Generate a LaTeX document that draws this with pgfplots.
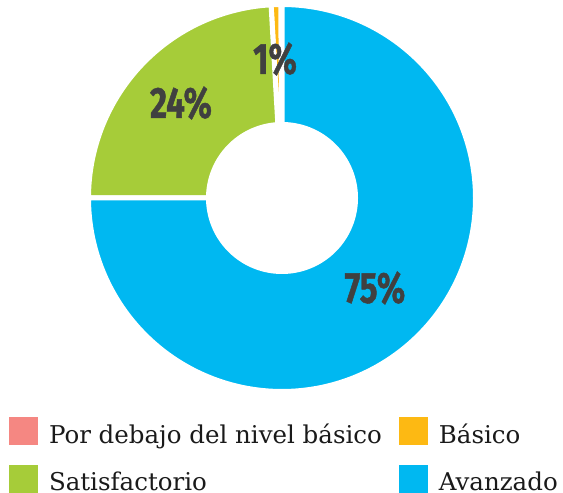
\documentclass[border=0pt]{standalone}
\usepackage{pgfplots}
\pgfplotsset{compat=1.18}
\usepackage{fontspec}
\usepackage{graphicx}
\setmainfont{DejaVu Serif}
\newfontfamily\labfam[FakeBold=1.2]{Fira Sans}
\definecolor{cPor}{HTML}{F58782}
\definecolor{cBas}{HTML}{FDB913}
\definecolor{cSat}{HTML}{A6CC39}
\definecolor{cAva}{HTML}{00B8F1}
\definecolor{cLab}{HTML}{404040}
\definecolor{cLeg}{HTML}{1A1A1A}
% data (percent)
\def\vPor{0.1}
\def\vBas{0.8}
\def\vSat{24.1}
\def\vAva{75.0}
\def\cx{282}
\def\cy{295}
\def\Rout{193.5}
\def\Rin{76}
\newcommand{\lab}[1]{{\labfam\bfseries\fontsize{43.5bp}{48bp}\selectfont\scalebox{0.76}[1]{#1}}}
\begin{document}%
\begin{tikzpicture}
\pgfmathsetmacro{\aA}{90}
\pgfmathsetmacro{\aB}{\aA+3.6*\vPor}
\pgfmathsetmacro{\aC}{\aB+3.6*\vBas}
\pgfmathsetmacro{\aD}{\aC+3.6*\vSat}
\pgfmathsetmacro{\aE}{\aD+3.6*\vAva}
\begin{axis}[
  scale only axis, width=563bp, height=493bp,
  xmin=0, xmax=563, ymin=0, ymax=493,
  hide axis, clip=false,
  legend columns=2,
  legend cell align=left,
  legend image code/.code={\fill[#1, draw=none] (0bp,-11bp) rectangle (29bp,17bp);},
  legend style={at={(axis cs:9,76)}, anchor=north west, draw=none, fill=none,
    inner sep=0pt, outer sep=0pt, row sep=20bp, column sep=11bp,
    /tikz/every even column/.append style={column sep=17bp},
    nodes={inner sep=0pt, text=cLeg},
    font=\fontsize{24.5bp}{28bp}\selectfont},
]
\addplot[fill=cPor, draw=white, line width=5bp, domain=\aA:\aB, samples=20, variable=\t]
  ({\cx+\Rout*cos(\t)},{\cy+\Rout*sin(\t)}) -- (axis cs:\cx,\cy) -- cycle;
\addlegendentry{Por debajo del nivel básico}
\addplot[fill=cBas, draw=white, line width=5bp, domain=\aB:\aC, samples=20, variable=\t]
  ({\cx+\Rout*cos(\t)},{\cy+\Rout*sin(\t)}) -- (axis cs:\cx,\cy) -- cycle;
\addlegendentry{Básico}
\addplot[fill=cSat, draw=white, line width=5bp, domain=\aC:\aD, samples=100, variable=\t]
  ({\cx+\Rout*cos(\t)},{\cy+\Rout*sin(\t)}) -- (axis cs:\cx,\cy) -- cycle;
\addlegendentry{Satisfactorio}
\addplot[fill=cAva, draw=white, line width=5bp, domain=\aD:\aE, samples=250, variable=\t]
  ({\cx+\Rout*cos(\t)},{\cy+\Rout*sin(\t)}) -- (axis cs:\cx,\cy) -- cycle;
\addlegendentry{Avanzado}
\addplot[fill=white, draw=none, domain=0:360, samples=200, variable=\t, forget plot]
  ({\cx+\Rin*cos(\t)},{\cy+\Rin*sin(\t)}) -- cycle;
\node[text=cLab] at (axis cs:375,205) {\lab{75\%}};
\node[text=cLab] at (axis cs:181,390) {\lab{24\%}};
\node[text=cLab] at (axis cs:275,434) {\lab{1\%}};
\end{axis}
\pgfresetboundingbox
\path[use as bounding box] (current axis.south west) rectangle (current axis.north east);
\end{tikzpicture}%
\end{document}
